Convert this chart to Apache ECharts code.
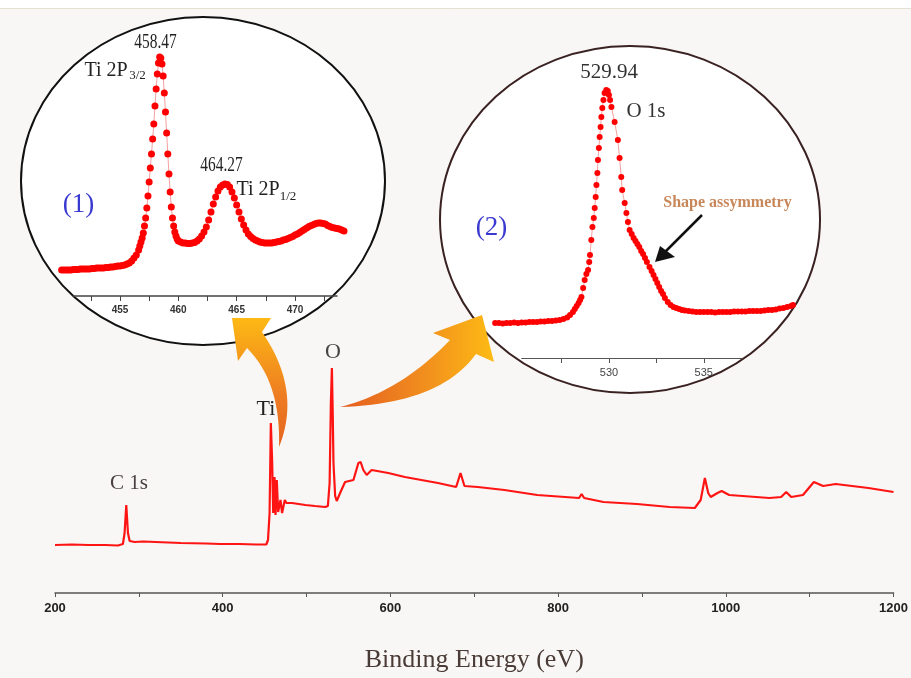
<!DOCTYPE html>
<html>
<head>
<meta charset="utf-8">
<script src="https://cdn.jsdelivr.net/npm/echarts@6/dist/echarts.min.js"></script>
<style>
html, body { margin: 0; padding: 0; background: #fff; }
#main { width: 911px; height: 678px; }
</style>
</head>
<body>
<div id="main"></div>
<script>
// XPS survey: binding energy (eV) and intensity (a.u.)
var surveyBE = [200, 220, 240, 260, 275, 281, 283, 285, 287, 289, 295, 305, 320, 350, 380, 397, 399, 401, 420, 440, 452,
  454, 455.9, 457.4, 459, 460.2, 461.8, 463, 464.5, 466.1, 468.9, 470.8, 474, 476, 482.7, 498.6, 510, 522.3,
  525.4, 527.5, 529, 530.2, 531.2, 532.1, 534.1, 536, 540, 545.9, 555.9, 561.8, 564.5, 567.7, 571.7, 577.6,
  597.4, 617.2, 656.7, 678.4, 683.6, 688.3, 704.2, 736, 775, 825, 828, 831, 854, 894, 933, 963, 970, 975,
  979, 982, 990, 995, 1004, 1052, 1066, 1072, 1078, 1092, 1100, 1105, 1116, 1131, 1170, 1200];
var surveyInt = [48, 48.5, 48, 48, 47.5, 49, 60, 88, 60, 52, 51, 51.5, 51, 50, 49.5, 49, 51, 49, 49, 48.5, 48.5,
  53, 80, 170, 130, 80, 116, 78, 113, 81, 93, 80, 93, 90, 90, 88, 87, 86,
  87, 110, 190, 225, 180, 130, 97, 92, 100, 111, 113, 130, 131, 123, 118, 123,
  120, 116, 110, 106, 120, 107, 106, 103, 98, 95, 99, 95, 91, 89, 86, 85, 93, 115,
  100, 96, 100, 102, 98, 95, 96, 101, 96, 98, 106, 111, 107, 109, 105, 101];
var surveyLabels = [200, 400, 600, 800, 1000, 1200];

// inset (1): Ti 2p high resolution
var tiBE = [450.0, 450.2, 450.4, 450.6, 450.8, 451.0, 451.2, 451.4, 451.6, 451.8, 452.0, 452.2, 452.4, 452.6, 452.8,
  453.0, 453.2, 453.4, 453.6, 453.8, 454.0, 454.2, 454.4, 454.6, 454.8, 455.0, 455.2, 455.4, 455.6, 455.8,
  456.0, 456.2, 456.4, 456.6, 456.7, 456.8, 456.9, 457.0, 457.1, 457.2, 457.3, 457.4, 457.5, 457.6, 457.7,
  457.8, 457.9, 458.0, 458.1, 458.2, 458.3, 458.4, 458.5, 458.6, 458.7, 458.8, 458.9, 459.0, 459.1, 459.2,
  459.3, 459.4, 459.5, 459.6, 459.7, 459.8, 459.9, 460.0, 460.2, 460.4, 460.6, 460.8, 461.0, 461.2, 461.4,
  461.6, 461.8, 462.0, 462.2, 462.4, 462.6, 462.8, 463.0, 463.2, 463.4, 463.6, 463.8, 464.0, 464.2, 464.4,
  464.6, 464.8, 465.0, 465.2, 465.4, 465.6, 465.8, 466.0, 466.2, 466.4, 466.6, 466.8, 467.0, 467.2, 467.4,
  467.6, 467.8, 468.0, 468.2, 468.4, 468.6, 468.8, 469.0, 469.2, 469.4, 469.6, 469.8, 470.0, 470.2, 470.4,
  470.6, 470.8, 471.0, 471.2, 471.4, 471.6, 471.8, 472.0, 472.2, 472.4, 472.6, 472.8, 473.0, 473.2, 473.4,
  473.6, 473.8, 474.0, 474.2];
var tiInt = [26, 26, 26, 26, 26, 26.5, 26.5, 26.5, 27, 27, 27, 27, 27, 27.5, 27.5,
  28, 28, 28, 28, 28.5, 28.5, 29, 29, 29.5, 30, 30, 30.5, 31, 32, 33,
  35, 38, 41, 46, 50, 54, 58, 63, 70, 78, 88, 100, 114, 128, 142,
  157, 172, 190, 207, 222, 233, 239, 238, 232, 220, 203, 184, 163, 142, 122,
  104, 89, 78, 70, 64, 60, 57, 55, 54, 53, 53, 52.5, 52.5, 53, 53.5,
  55, 57, 60, 64, 69, 76, 84, 92, 99, 105, 109, 111, 112, 111.5, 109,
  104, 98, 91, 84, 77, 71, 66, 62, 59.5, 57.5, 56, 55, 54, 53.5, 53,
  53, 53, 53, 53.5, 54, 54.5, 55, 56, 56.5, 57.5, 58.5, 59.5, 61, 62, 63.5,
  65, 66.5, 68, 69.5, 70.5, 71.5, 72.5, 73, 73, 72.5, 72, 70.5, 69.5, 68.5, 68,
  67.5, 67, 66, 65];
var tiTicks = [452.5, 455, 457.5, 460, 462.5, 465, 467.5, 470, 472.5];
var tiLabels = [455, 460, 465, 470];

// inset (2): O 1s high resolution
var oBE = [524.0, 524.2, 524.4, 524.6, 524.8, 525.0, 525.2, 525.4, 525.6, 525.8, 526.0, 526.2, 526.4, 526.6, 526.8,
  527.0, 527.2, 527.4, 527.6, 527.8, 527.95, 528.1, 528.2, 528.3, 528.4, 528.48, 528.55, 528.64, 528.72, 528.81,
  528.9, 528.96, 529.0, 529.07, 529.13, 529.2, 529.25, 529.3, 529.34, 529.39, 529.42, 529.47, 529.51, 529.56, 529.6,
  529.65, 529.71, 529.77, 529.86, 529.94, 530.0, 530.06, 530.13, 530.3, 530.47, 530.56, 530.65, 530.7, 530.83, 530.92,
  531.0, 531.09, 531.2, 531.3, 531.4, 531.5, 531.6, 531.7, 531.8, 531.9, 532.0, 532.14, 532.25, 532.35, 532.45,
  532.55, 532.65, 532.75, 532.85, 532.95, 533.1, 533.25, 533.4, 533.55, 533.7, 533.85, 534.0, 534.2, 534.4, 534.6,
  534.8, 535.0, 535.2, 535.4, 535.6, 535.8, 536.0, 536.2, 536.4, 536.6, 536.8, 537.0, 537.2, 537.4, 537.6,
  537.8, 538.0, 538.2, 538.4, 538.6, 538.8, 539.0, 539.2, 539.4, 539.6, 539.7];
var oInt = [35, 35, 34.5, 35, 35, 35.5, 35, 35.5, 35.5, 36, 36, 36, 36.5, 36.5, 37,
  37, 37.5, 38, 39, 40.5, 43, 46, 49, 52, 55, 58, 61, 70, 78, 84,
  88, 96, 103, 118, 131, 140, 150, 161, 173, 185, 198, 210, 221, 231, 241,
  250, 258, 265, 268, 267, 263, 258, 251, 236, 218, 200, 181, 168, 155, 145,
  136, 128, 124, 120, 117, 114, 111, 107, 104, 100, 96, 91, 87, 83, 79,
  75, 71, 67, 64, 60, 56, 53, 51, 50, 49, 48, 47.5, 47, 46.5, 46,
  46, 46, 46, 46, 45.5, 46, 46, 46, 46, 46.5, 46.5, 46.5, 46.5, 47, 47,
  47, 47, 47.5, 48, 48, 48.5, 49.5, 50, 51, 52, 53];
var oTicks = [527.5, 530, 532.5, 535];
var oLabels = [530, 535];

function pairs(xs, ys) {
  return xs.map(function (x, i) { return [x, ys[i]]; });
}

function quad(p0, c, p1, n) {
  var pts = [];
  for (var i = 0; i <= n; i++) {
    var t = i / n, u = 1 - t;
    pts.push([u * u * p0[0] + 2 * u * t * c[0] + t * t * p1[0],
              u * u * p0[1] + 2 * u * t * c[1] + t * t * p1[1]]);
  }
  return pts;
}

// curved orange arrows (decoration)
var arrow1 = quad([279, 447], [302, 390], [262, 332], 24)
  .concat([[271, 318], [232, 318], [238, 361]])
  .concat(quad([247, 348], [281, 382], [279, 447], 24));
var arrow2 = quad([340, 407], [440, 404], [476, 354], 24)
  .concat([[494, 362], [482, 315], [433, 333]])
  .concat(quad([450, 340], [400, 392], [340, 407], 24));

var serif = '"Liberation Serif", "Times New Roman", serif';
var sans = '"Liberation Sans", Arial, sans-serif';

function label(text, x, y, size, color, extra) {
  var el = {
    type: 'text', x: x, y: y, z: 20, silent: true,
    style: {
      text: text, fontSize: size, fontFamily: serif, fill: color,
      textAlign: 'center', textVerticalAlign: 'middle', align: 'center', verticalAlign: 'middle'
    }
  };
  if (extra) for (var k in extra) el[k] = extra[k];
  return el;
}

function plain(v) { return String(v); }

var chart = echarts.init(document.getElementById('main'));

chart.setOption({
  animation: false,
  backgroundColor: '#f8f7f5',
  grid: [
    { left: 55, right: 13, top: 8, bottom: 85 },
    { left: 73.3, right: 574, top: 40, bottom: 382 },
    { left: 521.7, right: 169.3, top: 40, bottom: 320 }
  ],
  xAxis: [
    {
      type: 'value', gridIndex: 0, min: 200, max: 1200, interval: 100,
      name: 'Binding Energy (eV)', nameLocation: 'middle', nameGap: 54,
      nameTextStyle: { fontFamily: serif, fontSize: 26, color: '#4a3b36' },
      axisLine: { lineStyle: { color: '#555', width: 1.5 } },
      axisTick: { length: 4, lineStyle: { color: '#555' } },
      axisLabel: { customValues: surveyLabels, formatter: plain, fontFamily: sans, fontWeight: 'bold', fontSize: 13, color: '#222', margin: 9 },
      splitLine: { show: false }
    },
    {
      type: 'value', gridIndex: 1, min: 451, max: 473.6, z: 5,
      axisLine: { lineStyle: { color: '#444', width: 1.5 } },
      axisTick: { customValues: tiTicks, length: 5, lineStyle: { color: '#444' } },
      axisLabel: { customValues: tiLabels, formatter: plain, fontFamily: sans, fontWeight: 'bold', fontSize: 10, color: '#333', margin: 9 },
      splitLine: { show: false }
    },
    {
      type: 'value', gridIndex: 2, min: 525.4, max: 537, z: 5,
      axisLine: { lineStyle: { color: '#555', width: 1 } },
      axisTick: { customValues: oTicks, length: 5, lineStyle: { color: '#555' } },
      axisLabel: { customValues: oLabels, formatter: plain, fontFamily: sans, fontSize: 11, color: '#444', margin: 9 },
      splitLine: { show: false }
    }
  ],
  yAxis: [
    { type: 'value', gridIndex: 0, min: 0, max: 585, show: false },
    { type: 'value', gridIndex: 1, min: 0, max: 256, show: false },
    { type: 'value', gridIndex: 2, min: 0, max: 318, show: false }
  ],
  series: [
    {
      type: 'line', xAxisIndex: 0, yAxisIndex: 0, data: pairs(surveyBE, surveyInt),
      showSymbol: false, lineStyle: { color: '#ff1414', width: 2.2 }, z: 3, silent: true
    },
    {
      type: 'line', xAxisIndex: 1, yAxisIndex: 1, data: pairs(tiBE, tiInt), clip: false,
      symbol: 'circle', symbolSize: 7, showAllSymbol: true,
      itemStyle: { color: '#ff0000' }, lineStyle: { color: '#f5a0a0', width: 1 }, z: 6, silent: true
    },
    {
      type: 'line', xAxisIndex: 2, yAxisIndex: 2, data: pairs(oBE, oInt), clip: false,
      symbol: 'circle', symbolSize: 6, showAllSymbol: true,
      itemStyle: { color: '#ff0000' }, lineStyle: { color: '#f5a0a0', width: 1 }, z: 6, silent: true
    }
  ],
  graphic: [
    { type: 'rect', z: 0, silent: true, shape: { x: 0, y: 0, width: 911, height: 8 }, style: { fill: '#ffffff' } },
    { type: 'line', z: 0, silent: true, shape: { x1: 0, y1: 8.5, x2: 911, y2: 8.5 }, style: { stroke: '#e4e0d2', lineWidth: 1 } },
    { type: 'ellipse', z: 1, silent: true, shape: { cx: 203, cy: 181, rx: 182, ry: 164 }, style: { fill: '#ffffff', stroke: '#111', lineWidth: 2 } },
    { type: 'ellipse', z: 1, silent: true, shape: { cx: 630, cy: 219.5, rx: 190, ry: 173.5 }, style: { fill: '#ffffff', stroke: '#3a2222', lineWidth: 2 } },
    {
      type: 'polygon', z: 15, silent: true, shape: { points: arrow1 },
      style: { fill: { type: 'linear', x: 0, y: 0, x2: 0, y2: 1, colorStops: [
        { offset: 0, color: '#fdb914' }, { offset: 0.6, color: '#ee7d22' }, { offset: 1, color: '#e4641f' }] } }
    },
    {
      type: 'polygon', z: 15, silent: true, shape: { points: arrow2 },
      style: { fill: { type: 'linear', x: 0, y: 0, x2: 1, y2: 0, colorStops: [
        { offset: 0, color: '#e45c1f' }, { offset: 0.5, color: '#f08a1f' }, { offset: 1, color: '#fdbb14' }] } }
    },
    { type: 'line', z: 20, silent: true, shape: { x1: 702, y1: 215, x2: 662, y2: 255 }, style: { stroke: '#111', lineWidth: 2.5 } },
    { type: 'polygon', z: 20, silent: true, shape: { points: [[655, 262], [660, 246], [675, 257]] }, style: { fill: '#111' } },

    label('C 1s', 129, 483, 21, '#4a4040'),
    label('Ti', 266, 409, 22, '#222'),
    label('O', 333, 352, 22, '#444'),

    label('458.47', 155.5, 42.5, 20, '#222', { scaleX: 0.77 }),
    label('Ti 2P', 106, 71, 20, '#222'),
    label('3/2', 137.5, 76, 13, '#222'),
    label('464.27', 221.5, 165.5, 20, '#222', { scaleX: 0.77 }),
    label('Ti 2P', 258, 189.5, 20, '#222'),
    label('1/2', 288, 196.5, 13, '#222'),
    label('(1)', 78.5, 204.5, 27, '#3a3ad0'),

    label('529.94', 609, 72, 21, '#333'),
    label('O 1s', 646, 111, 21, '#333'),
    label('(2)', 491.5, 228, 27, '#3a3ad0'),
    label('Shape assymmetry', 727.5, 202.5, 16, '#c8875a', { style: {
      text: 'Shape assymmetry', fontSize: 16, fontWeight: 'bold', fontFamily: serif, fill: '#c8875a',
      textAlign: 'center', textVerticalAlign: 'middle', align: 'center', verticalAlign: 'middle' } })
  ]
});
</script>
</body>
</html>
